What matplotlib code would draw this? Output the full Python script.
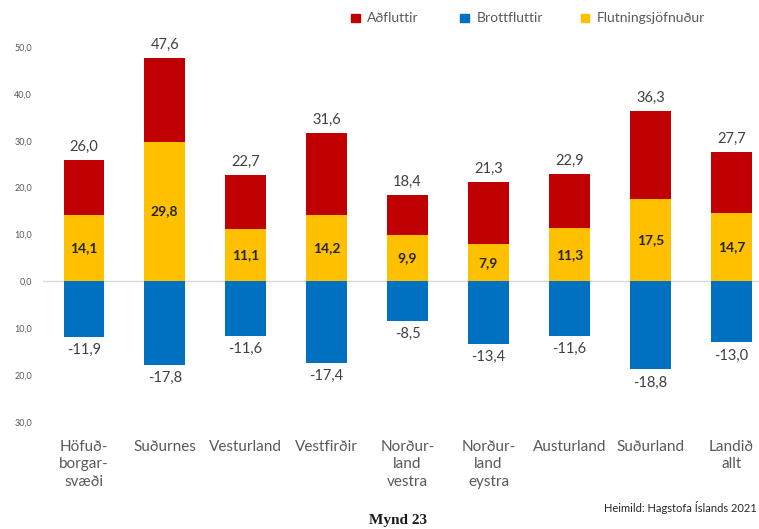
import matplotlib
matplotlib.use("Agg")
import matplotlib.pyplot as plt
import numpy as np
from matplotlib.patches import Rectangle

plt.rcParams["font.family"] = ["Lato", "DejaVu Sans"]

# Data
regions = ["Höfuð-\nborgar-\nsvæði", "Suðurnes", "Vesturland", "Vestfirðir",
           "Norður-\nland\nvestra", "Norður-\nland\neystra", "Austurland",
           "Suðurland", "Landið\nallt"]
adfluttir = [26.0, 47.6, 22.7, 31.6, 18.4, 21.3, 22.9, 36.3, 27.7]
brottfluttir = [-11.9, -17.8, -11.6, -17.4, -8.5, -13.4, -11.6, -18.8, -13.0]
jofnudur = [14.1, 29.8, 11.1, 14.2, 9.9, 7.9, 11.3, 17.5, 14.7]
yticks = [-30, -20, -10, 0, 10, 20, 30, 40, 50]

RED = "#C00000"
BLUE = "#0070C0"
YELLOW = "#FFC000"
GRAY = "#595959"

fig = plt.figure(figsize=(7.59, 5.29), dpi=100)
ax = fig.add_axes([0.057, 0.2023, 0.96, 0.7087])

x = np.arange(len(regions))
w = 0.5
ax.bar(x, adfluttir, w, color=RED, zorder=2)
ax.bar(x, jofnudur, w, color=YELLOW, zorder=3)
ax.bar(x, brottfluttir, w, color=BLUE, zorder=3)
ax.axhline(0, color="#D9D9D9", lw=1, zorder=1)

for i in range(len(regions)):
    ax.text(x[i], adfluttir[i] + 1.3, f"{adfluttir[i]:.1f}".replace(".", ","),
            ha="center", va="bottom", fontsize=10.5, color="#404040")
    ax.text(x[i], jofnudur[i] / 2, f"{jofnudur[i]:.1f}".replace(".", ","),
            ha="center", va="center", fontsize=10, fontweight="bold", color="#262626")
    ax.text(x[i], brottfluttir[i] - 1.3, f"{brottfluttir[i]:.1f}".replace(".", ","),
            ha="center", va="top", fontsize=10.5, color="#404040")

ax.set_xlim(-0.5, 8.5)
ax.set_ylim(-30, 50)
ax.set_yticks(yticks)
ax.set_yticklabels([f"{abs(v):.1f}".replace(".", ",") for v in yticks],
                   fontsize=6.5, color=GRAY)
ax.set_xticks(x)
ax.set_xticklabels(regions, fontsize=11, color=GRAY, linespacing=1.3)
ax.tick_params(length=0)
ax.tick_params(axis="y", pad=8)
ax.tick_params(axis="x", pad=13)
for s in ax.spines.values():
    s.set_visible(False)

# Legend
legend_items = [(0.463, "Aðfluttir", RED), (0.6065, "Brottfluttir", BLUE),
                (0.765, "Flutningsjöfnuður", YELLOW)]
for lx, label, col in legend_items:
    fig.patches.append(Rectangle((lx, 0.958), 0.011, 0.0155, color=col,
                                 transform=fig.transFigure, figure=fig))
    fig.text(lx + 0.021, 0.966, label, fontsize=10, color=GRAY, va="center")

fig.text(0.997, 0.04, "Heimild: Hagstofa Íslands 2021", fontsize=8,
         color="#262626", va="center", ha="right")
fig.text(0.525, 0.004, "Mynd 23", fontsize=11, fontweight="bold",
         family="Liberation Serif", ha="center", va="bottom", color="#1a1a1a")

fig.savefig("out.png", dpi=100)
